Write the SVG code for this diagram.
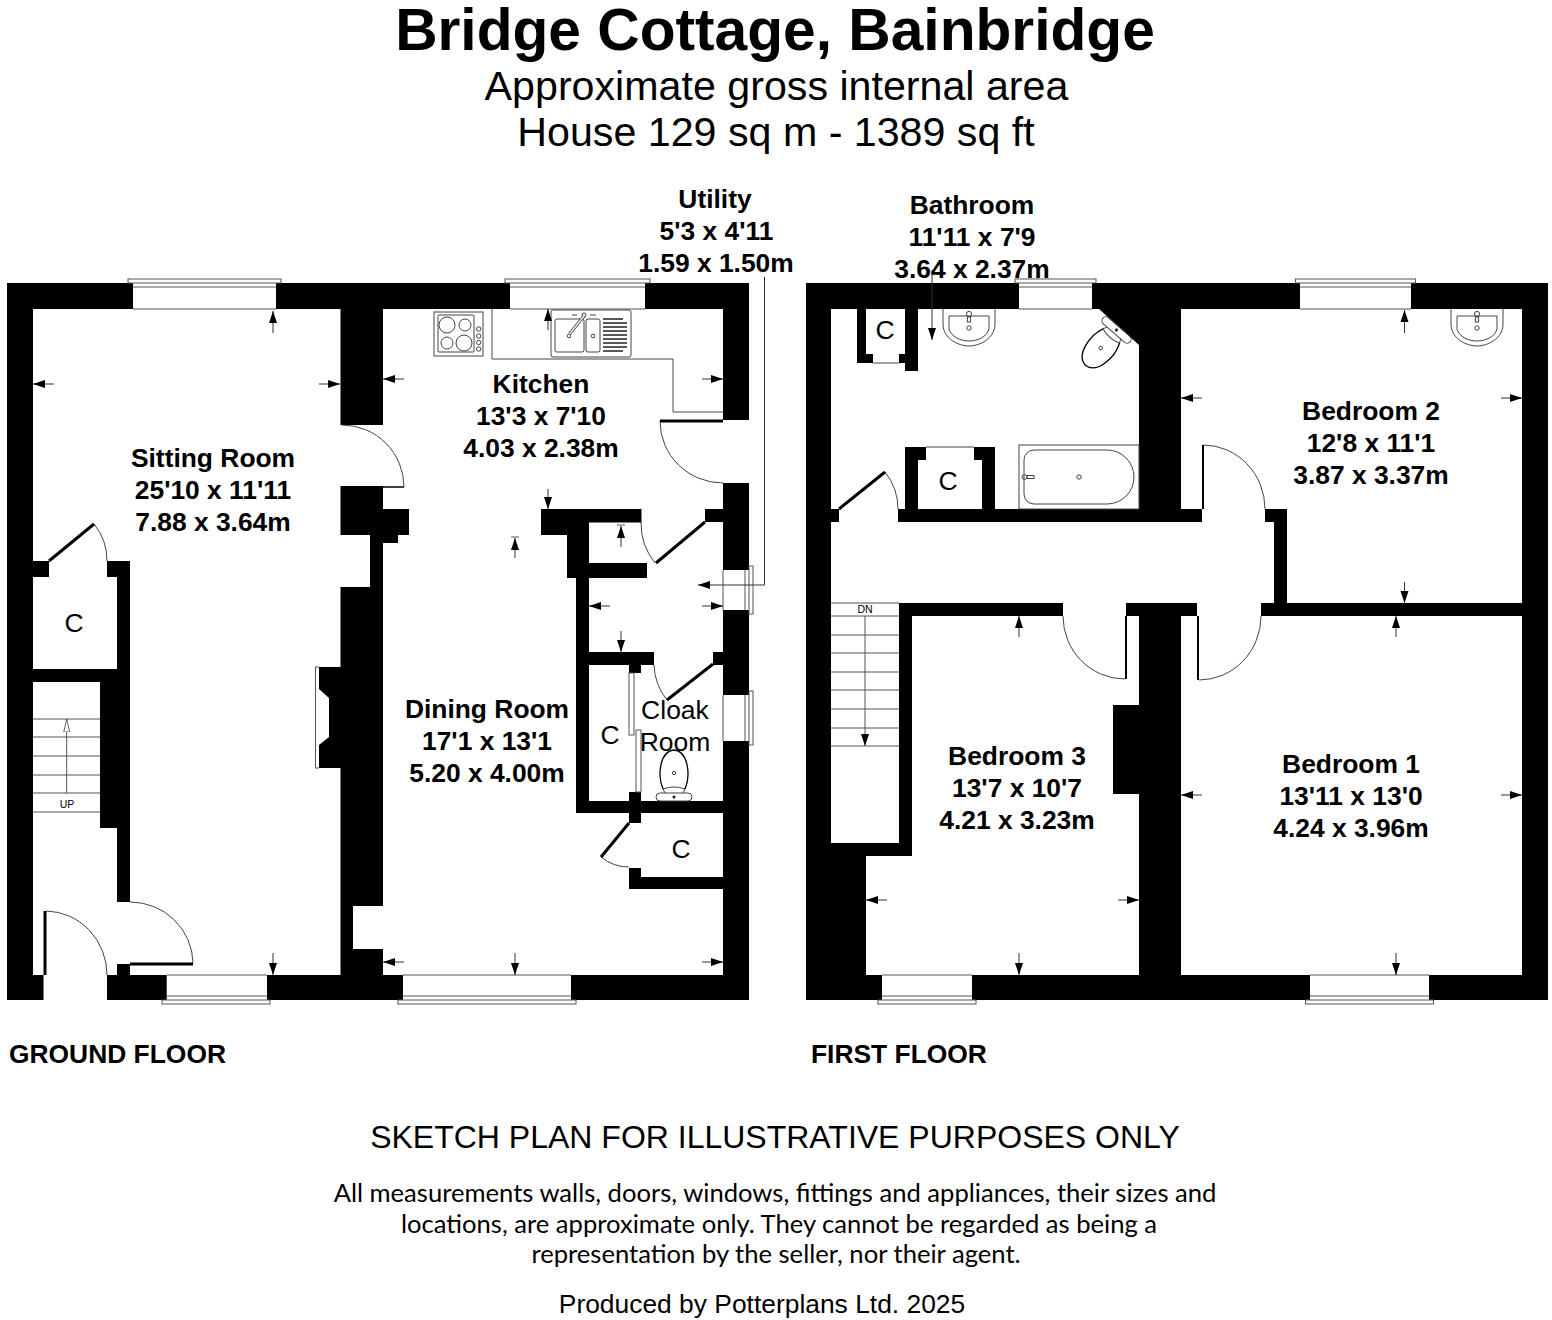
<svg xmlns="http://www.w3.org/2000/svg" xmlns:xlink="http://www.w3.org/1999/xlink" width="1552" height="1320" viewBox="0 0 1552 1320">
<style>
text{font-family:"Liberation Sans",Arial,sans-serif;fill:#000;text-anchor:middle}
.t1{font-size:58.7px;font-weight:700}
.t2{font-size:41.2px}
.rm{font-size:26.4px;font-weight:700}
.c{font-size:26.5px}
.fl{font-size:26.4px;font-weight:700;text-anchor:start}
.sk{font-size:32px}
.nt{font-family:Lato,"Open Sans",sans-serif;font-size:25.6px}
.pr{font-size:26.4px}
.sm{font-size:10.5px}
.w{fill:#000}
.ln{fill:none;stroke:#555;stroke-width:1}
.fx{fill:none;stroke:#444;stroke-width:1}
.lf{fill:none;stroke:#000;stroke-width:3}
.dm{fill:none;stroke:#333;stroke-width:1;marker-end:url(#ah)}
.wh{fill:#fff}
</style>
<defs>
<marker id="ah" markerUnits="userSpaceOnUse" markerWidth="13" markerHeight="9" refX="12" refY="4.500" orient="auto"><path d="M0 .5L12 4.500L0 8.500z" fill="#000"/></marker>
<marker id="ao" markerUnits="userSpaceOnUse" markerWidth="14" markerHeight="8" refX="13" refY="4" orient="auto"><path d="M0 1L13 4L0 7z" fill="#fff" stroke="#444" stroke-width=".8"/></marker>
<g id="basin" class="fx"><path d="M-26 0V15C-26 30-10 37 0 37C10 37 26 30 26 15V0"/><path d="M-20 7H20V20C18 28 8 32 0 32C-8 32-18 28-20 20Z"/><circle cy="5" r="2.6"/><rect x="-1.6" y="8" width="3.2" height="5"/><circle cy="19" r="2.2"/></g>
<g id="wc" class="fx"><rect x="-18" y="-4" width="36" height="8" rx="4"/><circle r="1.2" fill="#000"/><path d="M-9 4L-11 8Q0 12 11 8L9 4"/><path d="M-11 8C-17 22-14 46 0 47C14 46 17 22 11 8" stroke="#000" stroke-width="1.300"/><circle cy="24" r="1.7"/></g>
</defs>
<rect width="1552" height="1320" fill="#fff"/>
<g id="heading">
<text class="t1" x="775" y="50">Bridge Cottage, Bainbridge</text>
<text class="t2" x="776.500" y="100">Approximate gross internal area</text>
<text class="t2" x="776" y="146">House 129 sq m - 1389 sq ft</text>
</g>
<g id="ground-floor-walls" class="w">
<rect x="7" y="283" width="126" height="26"/><rect x="276" y="283" width="234" height="26"/><rect x="645" y="283" width="104" height="26"/>
<rect x="7" y="283" width="26" height="717"/>
<rect x="7" y="975" width="36.500" height="25"/><rect x="107" y="975" width="59.700" height="25"/><rect x="267" y="975" width="136" height="25"/><rect x="571" y="975" width="178" height="25"/>
<rect x="723" y="283" width="26" height="137"/><rect x="723" y="483" width="26" height="87"/><rect x="723" y="610" width="26" height="85"/><rect x="723" y="741" width="26" height="259"/>
<rect x="340.500" y="309" width="42.500" height="116"/><rect x="340.500" y="486" width="42.500" height="49"/><rect x="383" y="509" width="26" height="26"/><rect x="383" y="535" width="15" height="8"/><rect x="370" y="535" width="13" height="52"/><rect x="340.500" y="587" width="42.500" height="319"/><rect x="340.500" y="906" width="12.500" height="69"/><rect x="353" y="949" width="30" height="26"/>
<path d="M319 667H341V768H319V745L329 737V698L319 689z"/>
<rect x="33" y="561" width="16" height="16"/><rect x="107" y="561" width="23" height="16"/><rect x="117" y="577" width="13" height="325"/><rect x="33" y="669" width="84" height="13"/><rect x="100" y="682" width="17" height="146"/><rect x="117" y="964" width="13" height="11"/>
<rect x="541" y="509" width="100.500" height="13.500"/><rect x="541" y="522" width="48" height="13"/><rect x="567" y="535" width="22" height="43"/><rect x="589" y="563" width="58" height="15"/><rect x="576" y="578" width="13" height="235"/><rect x="576" y="652" width="78" height="13"/><rect x="629" y="665" width="12" height="8"/><rect x="705" y="509" width="18" height="13"/><rect x="713" y="652" width="10" height="13"/><rect x="576" y="801" width="147" height="12"/><rect x="629" y="792" width="12" height="31"/><rect x="629" y="868" width="12" height="21"/><rect x="629" y="877" width="94" height="12"/>
</g>
<g id="first-floor-walls" class="w">
<rect x="806" y="283" width="213" height="26"/><rect x="1092" y="283" width="208" height="26"/><rect x="1411" y="283" width="137" height="26"/>
<rect x="806" y="283" width="25" height="717"/><rect x="1522" y="283" width="26" height="717"/>
<rect x="806" y="975" width="76" height="25"/><rect x="972" y="975" width="338" height="25"/><rect x="1429" y="975" width="119" height="25"/>
<path d="M1096 283V309H1099L1139 345V509H1181V283z"/>
<rect x="857" y="309" width="9" height="54"/><rect x="857" y="354" width="16" height="9"/><rect x="905" y="309" width="13" height="62"/><rect x="899" y="354" width="6" height="9"/>
<rect x="905" y="447" width="13" height="62"/><rect x="905" y="447" width="21" height="13"/><rect x="982" y="447" width="13" height="62"/><rect x="974" y="447" width="21" height="13"/>
<rect x="898" y="509" width="304" height="13"/><rect x="831" y="509" width="8" height="13"/><rect x="1265" y="509" width="22" height="13"/><rect x="1274" y="522" width="13" height="81"/><rect x="1261" y="603" width="261" height="13"/>
<rect x="899" y="603" width="164" height="13"/><rect x="1126" y="603" width="71" height="13"/><rect x="899" y="603" width="13" height="253"/><rect x="831" y="843" width="81" height="13"/><rect x="831" y="843" width="35" height="132"/><rect x="1139" y="616" width="42" height="359"/><rect x="1113" y="705" width="26" height="89"/>
</g>
<g id="windows" class="ln">
<rect x="128" y="279" width="153" height="4"/><path d="M133 287H276M133 309H276"/>
<rect x="505" y="279" width="145" height="4"/><path d="M510 287H645M510 309H645"/>
<rect x="1015" y="279" width="81" height="4"/><path d="M1019 287H1092M1019 309H1092"/>
<rect x="1295.500" y="279" width="120" height="4"/><path d="M1300 287H1411M1300 309H1411"/>
<rect x="162" y="1000" width="108" height="4"/><path d="M167 975H267M167 996H267"/>
<rect x="398" y="1000" width="178" height="4"/><path d="M403 975H571M403 996H571"/>
<rect x="878" y="1000" width="98" height="4"/><path d="M882 975H972M882 996H972"/>
<rect x="1305.500" y="1000" width="128" height="4"/><path d="M1310 975H1429M1310 996H1429"/>
<rect x="749" y="566" width="4" height="48"/><path d="M723 570V610M745 570V610"/>
<rect x="749" y="691" width="4" height="54"/><path d="M723 695V741M745 695V741"/>
<path d="M315 667H319M315 768H319M315.500 667V768"/>
</g>
<g id="doors">
<g class="fx"><path d="M342 425A62 62 0 0 1 404 487"/><path d="M94 524A58 58 0 0 1 107 561"/><path d="M46 911A62 64 0 0 1 107 975"/><path d="M130 902A63 62 0 0 1 193 963"/><path d="M660 421A63 62 0 0 0 723 483"/><path d="M641 522A64 64 0 0 0 655 563"/><path d="M654 665A59 59 0 0 0 667 700"/><path d="M601 857A44 44 0 0 0 629 867"/><path d="M885 472A59 59 0 0 1 898 509"/><path d="M1203 445A62 64 0 0 1 1265 509"/><path d="M1063 616A62 63 0 0 0 1125 679"/><path d="M1261 616A62 64 0 0 1 1199 680"/></g>
<g class="lf"><path d="M383 487H404" stroke-width="1.500"/><path d="M49 561L94 524"/><path d="M45 911V975"/><path d="M130 964H193"/><path d="M660 421H723"/><path d="M705 522L656 563"/><path d="M713 664L667 700"/><path d="M629 823L601 857"/><path d="M839 509L885 472"/><path d="M1203 445V509" stroke-width="2"/><path d="M1126 616V679" stroke-width="2"/><path d="M1198 616V680" stroke-width="2"/></g>
<g class="ln"><rect x="629" y="673" width="5" height="62" fill="#fff"/><rect x="636" y="730" width="5" height="62" fill="#fff"/></g>
</g>
<g id="stairs" class="ln">
<path d="M33 719H100M33 737H100M33 756H100M33 775H100M33 793H100M33 812H100"/>
<path d="M66.700 793V719" marker-end="url(#ao)"/>
<path d="M831 603H899M831 616H899M831 635H899M831 653H899M831 672H899M831 690H899M831 709H899M831 728H899M831 746H899"/>
<path d="M865 616V746" style="marker-end:url(#ah)"/>
</g>
<g id="fixtures">
<g class="fx">
<path d="M492 309V359H673V412H723"/>
<rect x="434" y="312" width="49" height="44"/><rect x="438" y="315" width="36" height="37" rx="1"/>
<circle cx="447" cy="325" r="8"/><circle cx="465" cy="325" r="6"/><circle cx="447" cy="343" r="6"/><circle cx="464" cy="343" r="8"/>
<circle cx="478.700" cy="329" r="2.200"/><circle cx="478.700" cy="336" r="2.200"/><circle cx="478.700" cy="342.500" r="2.200"/><circle cx="478.700" cy="349" r="2.200"/>
<rect x="551" y="310" width="80" height="47" rx="2"/><rect x="555" y="319" width="29" height="33" rx="2"/><rect x="586" y="319" width="14" height="33" rx="2"/>
<circle cx="569" cy="336" r="1.800"/><circle cx="593" cy="336" r="1.800"/><circle cx="584" cy="315" r="2"/>
<path d="M572 315H577M590 315H596"/>
<path d="M569.500 334L584 316" stroke-width="3" stroke="#444"/><path d="M569.500 334L584 316" stroke-width="1.200" stroke="#fff"/>
<path d="M603 319H623M603 323H627M603 327H627M603 331H627M603 335H627M603 339H627M603 343H627M603 347H627M603 351H623" stroke="#222" stroke-width="1.300"/>
<rect x="1019" y="445" width="120" height="64"/>
<path d="M1034 450H1107A27 27 0 0 1 1107 504H1034A10 10 0 0 1 1024 494V460A10 10 0 0 1 1034 450z"/>
<circle cx="1024.500" cy="477" r="2.400"/><rect x="1027" y="475.500" width="7" height="3"/><circle cx="1079" cy="477" r="2.200"/>
<path d="M873 363H899M926 447H974"/>
</g>
<use xlink:href="#basin" href="#basin" x="969" y="309"/>
<use xlink:href="#basin" href="#basin" x="1477" y="309"/>
<use xlink:href="#wc" href="#wc" transform="translate(1116.500 330) rotate(41)"/>
<use xlink:href="#wc" href="#wc" transform="translate(674 797) rotate(180)"/>
</g>
<g id="connectors">
<g class="dm">
<path d="M273 333V311"/><path d="M54 384H33"/><path d="M319 384H340"/><path d="M273 953V975"/>
<path d="M548 330V309"/><path d="M404 379H383"/><path d="M702 379H723"/><path d="M548 489V509"/><path d="M515 558V538"/>
<path d="M621 547V526"/><path d="M610 606H589"/><path d="M702 606H723"/><path d="M621 631V652"/>
<path d="M515 953V975"/><path d="M404 962H383"/><path d="M702 962H723"/>
<path d="M764.500 277V585H698"/><path d="M932 270V340"/>
<path d="M1404.500 333V310"/><path d="M1202 398H1181"/><path d="M1501 398H1522"/><path d="M1404.500 582V603"/>
<path d="M1396 637V616"/><path d="M1202 795H1181"/><path d="M1501 795H1522"/><path d="M1396 953V975"/>
<path d="M1019 637V616"/><path d="M887 900H866"/><path d="M1118 900H1139"/><path d="M1019 953V975"/>
</g>
<path class="ln" d="M617 525H625M511 537H519"/>
</g>
<g id="labels">
<g id="sitting-room"><text class="rm" x="213" y="467">Sitting Room</text><text class="rm" x="213" y="499">25'10 x 11'11</text><text class="rm" x="213" y="531">7.88 x 3.64m</text></g>
<g id="kitchen"><text class="rm" x="541" y="393">Kitchen</text><text class="rm" x="541" y="425">13'3 x 7'10</text><text class="rm" x="541" y="457">4.03 x 2.38m</text></g>
<g id="dining-room"><text class="rm" x="487" y="718">Dining Room</text><text class="rm" x="487" y="750">17'1 x 13'1</text><text class="rm" x="487" y="782">5.20 x 4.00m</text></g>
<g id="utility"><text class="rm" x="715" y="208">Utility</text><text class="rm" x="716.500" y="240">5'3 x 4'11</text><text class="rm" x="716" y="272">1.59 x 1.50m</text></g>
<g id="bathroom"><text class="rm" x="972" y="214">Bathroom</text><text class="rm" x="972" y="246">11'11 x 7'9</text><text class="rm" x="972" y="278">3.64 x 2.37m</text></g>
<g id="bedroom-2"><text class="rm" x="1371" y="420">Bedroom 2</text><text class="rm" x="1371" y="452">12'8 x 11'1</text><text class="rm" x="1371" y="484">3.87 x 3.37m</text></g>
<g id="bedroom-3"><text class="rm" x="1017" y="765">Bedroom 3</text><text class="rm" x="1017" y="797">13'7 x 10'7</text><text class="rm" x="1017" y="829">4.21 x 3.23m</text></g>
<g id="bedroom-1"><text class="rm" x="1351" y="773">Bedroom 1</text><text class="rm" x="1351" y="805">13'11 x 13'0</text><text class="rm" x="1351" y="837">4.24 x 3.96m</text></g>
<g id="cloak-room"><text class="c" x="675" y="719">Cloak</text><text class="c" x="675" y="751">Room</text></g>
<text class="c" x="74" y="632">C</text><text class="c" x="610" y="744">C</text><text class="c" x="681" y="858">C</text><text class="c" x="885" y="339">C</text><text class="c" x="948" y="490">C</text>
<text class="sm" x="67" y="808">UP</text><text class="sm" x="865" y="613">DN</text>
<text class="fl" x="9" y="1063">GROUND FLOOR</text><text class="fl" x="811" y="1063">FIRST FLOOR</text>
</g>
<g id="notes">
<text class="sk" x="775" y="1148">SKETCH PLAN FOR ILLUSTRATIVE PURPOSES ONLY</text>
<text class="nt" x="775" y="1202">All measurements walls, doors, windows, fittings and appliances, their sizes and</text>
<text class="nt" x="779" y="1233">locations, are approximate only. They cannot be regarded as being a</text>
<text class="nt" x="776" y="1263">representation by the seller, nor their agent.</text>
<text class="pr" x="762" y="1313">Produced by Potterplans Ltd. 2025</text>
</g>
</svg>
